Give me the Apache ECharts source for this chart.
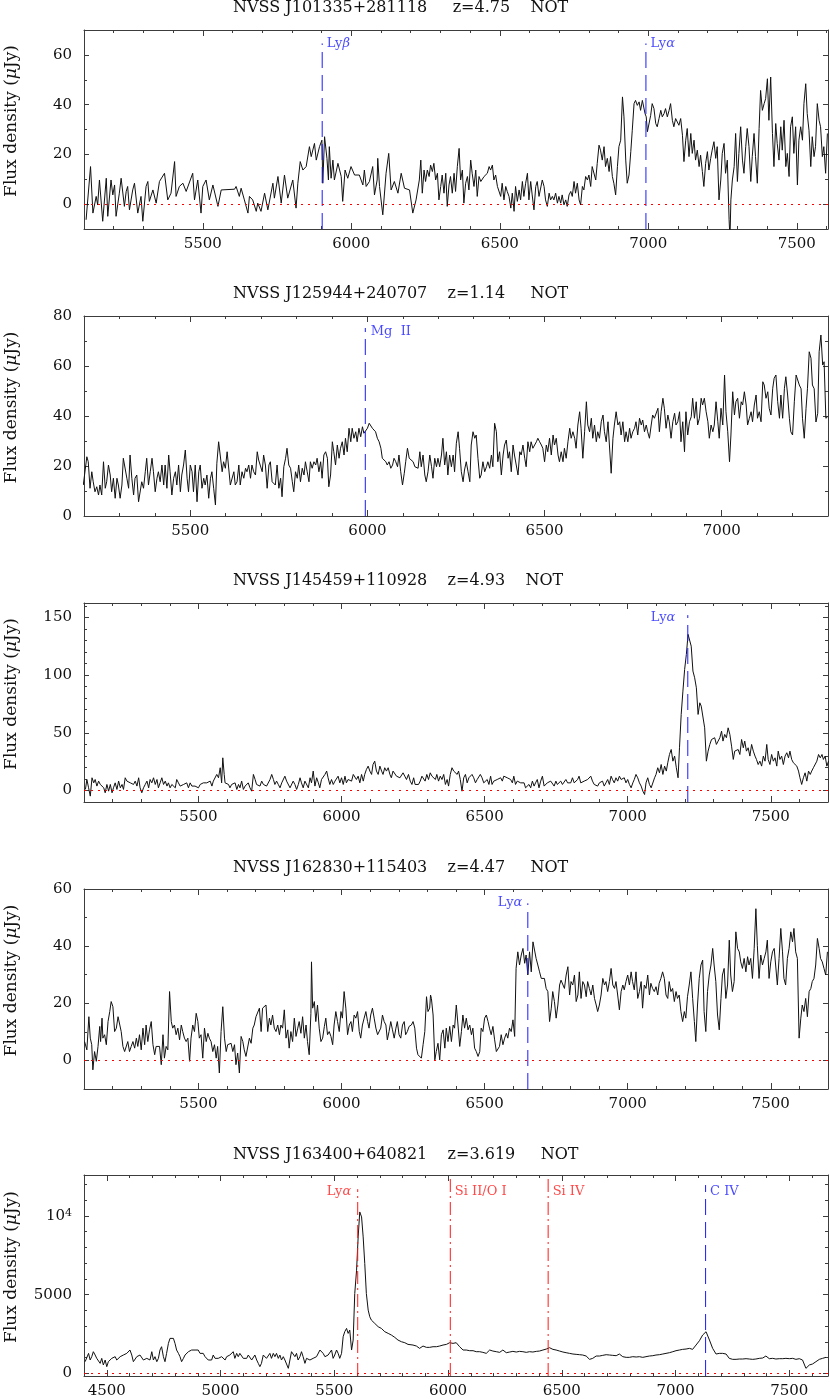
<!DOCTYPE html>
<html><head><meta charset="utf-8">
<script src="https://cdn.jsdelivr.net/npm/echarts@6/dist/echarts.min.js"></script>
<style>html,body{margin:0;padding:0;background:#fff}#c{width:830px;height:1399px}</style>
</head><body><div id="c"></div><script>
// ---------------- DATA ----------------
const titles = [
  'NVSS J101335+281118     z=4.75    NOT',
  'NVSS J125944+240707    z=1.14     NOT',
  'NVSS J145459+110928    z=4.93    NOT',
  'NVSS J162830+115403    z=4.47     NOT',
  'NVSS J163400+640821    z=3.619     NOT'
];
const xTicks1 = [5500,6000,6500,7000,7500];
const xTicks2 = [5500,6000,6500,7000];
const xTicks3 = [5500,6000,6500,7000,7500];
const xTicks4 = [5500,6000,6500,7000,7500];
const xTicks5 = [4500,5000,5500,6000,6500,7000,7500];
const yTicks1 = [0,20,40,60];
const yTicks2 = [0,20,40,60,80];
const yTicks3 = [0,50,100,150];
const yTicks4 = [0,20,40,60];
const yTicks5 = [0,5000,10000];

const lines1 = [{name:'Lyβ', wl:5902},{name:'Lyα', wl:6992}];
const lines2 = [{name:'Mg  II', wl:5994}];
const lines3 = [{name:'Lyα', wl:7210}];
const lines4 = [{name:'Lyα', wl:6651}];
const lines5 = [{name:'Lyα', wl:5603},{name:'Si II/O I', wl:6010},{name:'Si IV', wl:6440},{name:'C IV', wl:7132}];

const spec1 = [[5107,-6.3],[5122,15.1],[5130,-3.6],[5141,3.1],[5146,-0.3],[5152,9.7],[5158,9.7],[5163,-6.9],[5175,10.4],[5180,-4.9],[5191,9.7],[5197,3.7],[5203,7.7],[5208,-4.9],[5219,4.4],[5225,10.4],[5236,-0.9],[5242,5.1],[5247,7.1],[5253,-2.3],[5264,5.7],[5270,8.4],[5281,-3.6],[5292,3.1],[5298,-6.9],[5309,7.1],[5315,9.1],[5320,1.1],[5332,5.7],[5343,0.4],[5354,9.1],[5371,12.4],[5382,1.7],[5393,4.4],[5405,17.1],[5410,3.1],[5421,7.1],[5433,8.4],[5444,5.1],[5466,12.4],[5472,1.7],[5483,9.7],[5494,-3.6],[5500,7.1],[5511,9.7],[5522,1.7],[5534,7.7],[5551,-0.9],[5562,5.7],[5567,6],[5607,6],[5612,7.1],[5623,3.1],[5629,6.4],[5640,1.7],[5652,-3.6],[5657,3.1],[5668,1.7],[5680,-2.9],[5685,0.4],[5696,-2.9],[5708,4.4],[5719,-2.3],[5736,8.4],[5741,2.4],[5753,11.1],[5764,0.4],[5775,11.7],[5786,2.4],[5803,9.7],[5814,-1.6],[5820,8.4],[5828,17.1],[5837,13.7],[5848,15.1],[5859,23.1],[5865,19.1],[5876,24.4],[5882,17.7],[5893,23.1],[5901,25.7],[5904,8.4],[5910,27.1],[5918,18.4],[5923,9.7],[5926,23.1],[5932,10.4],[5938,17.7],[5943,9.7],[5955,16.4],[5966,11.1],[5971,1.1],[5979,13.7],[5988,10.4],[5999,15.1],[6011,11.7],[6027,11.7],[6039,7.7],[6044,13.7],[6050,7.1],[6061,9.1],[6072,15.1],[6078,3.7],[6087,9.7],[6089,18.4],[6095,7.1],[6106,-4.3],[6117,12.4],[6126,20.4],[6134,5.7],[6145,9.1],[6157,4.4],[6168,12.4],[6179,6.4],[6196,5.7],[6207,-3.6],[6218,1.7],[6229,9.7],
[6234,17.7],[6239,4.4],[6245,13.7],[6250,9.1],[6256,13.7],[6262,11.1],[6267,15.7],[6273,13.1],[6278,16.4],[6284,9.7],[6290,12.4],[6295,1.7],[6301,7.1],[6306,11.7],[6312,4.4],[6318,12.4],[6323,-0.9],[6329,7.7],[6334,11.1],[6340,4.4],[6346,12.4],[6351,5.1],[6357,15.1],[6363,22.4],[6368,9.7],[6374,13.7],[6379,0.4],[6385,8.4],[6391,11.1],[6396,5.7],[6402,17.7],[6407,12.4],[6413,7.1],[6419,13.7],[6424,3.1],[6430,11.1],[6436,9.1],[6447,11.1],[6458,12.4],[6464,15.1],[6469,13.7],[6475,15.7],[6480,9.7],[6486,11.7],[6492,7.1],[6497,7.7],[6503,3.1],[6508,8.4],[6514,1.7],[6520,7.1],[6525,5.1],[6531,3.1],[6537,-1.6],[6542,4.4],[6548,-2.9],[6553,7.1],[6559,1.1],[6565,5.7],[6570,1.7],[6576,9.1],[6581,3.1],[6587,8.4],[6593,12.4],[6598,1.7],[6604,9.1],[6609,3.7],[6615,-2.3],[6621,7.1],[6626,9.1],[6632,3.1],[6643,9.7],[6649,7.1],[6654,1.7],[6660,-0.9],[6666,4.4],[6671,1.7],[6677,3.1],[6682,1.7],[6688,4.4],[6694,0.4],[6699,3.1],[6705,0.4],[6710,3.7],[6716,-0.3],[6722,1.7],[6727,-0.9],[6733,3.7],[6739,5.1],[6744,3.1],[6750,9.1],[6755,4.4],[6761,8.4],[6767,1.7],[6772,-0.3],[6778,7.1],[6783,5.7],[6789,11.1],[6795,9.7],[6800,11.7],[6806,7.1],[6811,15.1],[6823,9.7],[6828,16.4],[6834,23.7],[6839,21.7],[6845,17.7],[6851,23.1],[6856,15.1],[6862,18.4],[6868,13.1],[6873,19.1],[6879,11.1],[6884,8.4],[6890,3.7],[6896,15.1],[6901,23.1],[6907,25.7],[6913,43.1],[6918,35.1],[6924,17.7],[6929,8.4],[6935,11.7],[6941,21.1],[6946,29.7],[6952,40.4],[6957,41.7],[6963,39.7],[6969,41.1],[6974,37.7],[6980,41.7],[6985,41.7],[6989,36.4],[6993,35.1],[6997,29.1],[7002,29.7],[7008,35.7],[7013,40.4],[7019,38.4],[7025,32.4],[7030,31.1],[7036,34.4],[7042,37.7],[7047,35.1],[7053,36.4],[7058,38.4],[7064,35.1],[7070,37.7],[7075,40.4],[7081,33.7],[7086,31.1],[7092,34.4],[7098,35.1],[7103,31.7],[7109,34.4],[7115,27.7],[7120,17.1],[7126,25.7],[7131,30.4],[7137,19.1],[7143,28.4],[7148,20.4],[7154,25.7],[7159,17.7],[7165,21.7],[7171,15.1],[7176,19.7],[7182,13.1],[7187,7.1],[7193,16.4],[7199,21.1],[7204,13.7],[7210,18.4],[7215,21.7],[7221,25.1],[7227,18.4],[7232,23.1],[7238,1.7],[7244,9.7],[7249,20.4],[7255,24.4],[7260,12.4],[7266,17.7],[7272,-6.3],[7275,-14],[7278,1.7],[7283,9.7],[7289,15.1],[7294,28.4],[7300,9.1],[7305,20.4],[7311,31.1],[7317,17.7],[7322,12.4],[7328,23.1],[7333,30.4],[7339,23.1],[7345,9.1],[7350,19.1],[7356,28.4],[7361,19.1],[7367,8.4],[7373,30.4],[7378,45.7],[7384,37.7],[7390,40.4],[7395,42.4],[7401,50.4],[7406,33.7],[7412,51.1],[7418,28.4],[7423,15.1],[7429,32.4],[7434,24.4],[7440,17.7],[7446,31.1],[7451,21.7],[7457,33.7],[7463,15.1],[7468,20.4],[7474,11.1],[7479,31.1],[7485,35.1],[7490,20.4],[7496,31.1],[7502,7.7],[7507,25.7],[7513,31.1],[7519,25.7],[7524,40.4],[7530,48.4],[7535,36.4],[7541,29.7],[7547,15.1],[7552,27.1],[7558,19.1],[7563,23.1],[7569,40.4],[7575,33.7],[7580,31.1],[7586,19.1],[7591,23.1],[7597,12.4],[7603,28.4]];

const spec2 = [[5198,12.4],[5208,23.7],[5212,21.7],[5217,11.1],[5222,17.7],[5226,13.7],[5231,9.7],[5236,11.7],[5241,8.4],[5245,12.4],[5250,8.4],[5255,21.7],[5260,11.1],[5264,13.7],[5269,20.4],[5274,16.4],[5278,9.7],[5283,15.1],[5288,7.1],[5293,15.1],[5297,12.4],[5302,7.1],[5307,12.4],[5311,23.1],[5316,22.4],[5321,15.1],[5326,11.1],[5330,24.4],[5335,15.1],[5340,8.4],[5344,15.1],[5349,16.4],[5354,5.7],[5359,5.7],[5363,13.7],[5368,11.1],[5373,17.7],[5377,23.1],[5382,12.4],[5387,17.7],[5392,23.1],[5396,17.7],[5401,9.7],[5406,15.1],[5410,17.7],[5415,13.7],[5420,20.4],[5425,12.4],[5429,20.4],[5434,11.1],[5439,24.4],[5443,17.7],[5448,8.4],[5453,15.1],[5458,17.7],[5462,12.4],[5467,20.4],[5472,9.7],[5476,16.4],[5481,20.4],[5486,26.4],[5491,15.1],[5495,9.7],[5500,20.4],[5505,17.7],[5509,9.7],[5514,20.4],[5519,5.7],[5524,17.7],[5528,20.4],[5533,11.1],[5538,15.1],[5542,12.4],[5547,16.4],[5552,7.1],[5557,15.1],[5561,17.7],[5566,11.1],[5571,4.4],[5575,21.1],[5580,29.7],[5585,29.7],[5590,17.7],[5594,21.7],[5599,19.1],[5604,25.7],[5608,25.7],[5613,12.4],[5618,12.4],[5623,17.7],[5627,12.4],[5632,13.7],[5637,20.4],[5641,12.4],[5646,17.7],[5651,15.1],[5656,19.1],[5660,17.7],[5665,20.4],[5670,15.1],[5674,20.4],[5679,17.7],[5684,16.4],[5689,25.7],[5693,22.4],[5698,23.1],[5703,17.7],[5707,24.4],[5712,20.4],[5717,11.1],[5722,20.4],[5726,21.7],[5731,13.7],[5736,13.7],[5740,12.4],[5745,20.4],[5750,11.1],[5755,15.1],[5759,7.7],[5764,19.7],[5769,23.1],[5773,27.1],[5778,20.4],[5783,19.1],[5788,13.7],[5792,9.7],[5797,17.7],[5802,15.1],[5806,20.4],[5811,13.7],[5816,19.1],[5821,16.4],[5825,21.7],[5830,17.7],[5835,13.7],[5839,21.7],[5844,19.1],[5849,21.7],[5854,20.4],[5858,23.1],[5863,17.7],[5868,21.7],[5872,15.1],[5877,24.4],[5882,25.7],[5887,23.1],[5891,11.7],[5896,16.4],[5901,29.7],[5905,25.7],[5910,20.4],[5915,28.4],[5920,23.1],[5924,27.1],[5929,29.7],[5934,24.4],[5938,31.1],[5943,25.7],[5948,35.1],[5953,29.7],[5957,35.1],[5962,31.1],[5967,33.7],[5971,29.7],[5976,35.1],[5981,31.7],[5986,35.7],[5990,33.1],[5995,33.7],[6000,35.1],[6005,37.1],[6009,36.4],[6014,35.1],[6019,35.7],[6023,33.7],[6028,31.1],[6033,29.7],[6038,27.1],[6042,23.1],[6047,22.4],[6052,21.7],[6056,20.4],[6061,21.7],[6066,19.1],[6071,20.4],[6075,23.1],[6080,21.7],[6085,19.7],[6089,24.4],[6094,17.7],[6099,12.4],[6104,17.1],[6108,21.7],[6113,27.1],[6118,23.1],
[6129,21.7],[6134,19.7],[6138,20.4],[6143,19.1],[6148,25.7],[6152,19.7],[6157,24.4],[6162,16.4],[6166,13.7],[6171,17.7],[6176,24.4],[6181,19.7],[6185,15.1],[6190,23.1],[6195,19.7],[6199,23.1],[6204,19.7],[6209,24.4],[6213,31.1],[6218,20.4],[6223,25.7],[6227,16.4],[6232,24.4],[6237,19.7],[6242,24.4],[6246,17.7],[6251,29.1],[6256,33.7],[6260,27.1],[6265,17.7],[6270,13.7],[6274,18.4],[6279,21.7],[6284,17.7],[6289,13.7],[6293,28.4],[6298,33.7],[6303,31.1],[6307,32.4],[6312,23.1],[6317,15.1],[6321,16.4],[6326,21.7],[6331,17.7],[6336,19.7],[6340,21.7],[6345,19.1],[6350,24.4],[6354,19.7],[6359,37.1],[6364,33.7],[6368,21.7],[6373,25.7],[6378,16.4],[6383,24.4],[6387,28.4],[6392,30.4],[6397,23.1],[6401,25.7],[6406,17.7],[6411,28.4],[6415,24.4],[6420,20.4],[6425,16.4],[6430,25.7],[6434,24.4],[6439,28.4],[6444,23.1],[6448,19.7],[6453,29.7],[6458,25.7],[6462,29.7],[6467,27.1],[6472,28.4],[6477,29.7],[6481,31.1],[6486,29.7],[6491,28.4],[6495,27.1],[6500,21.7],[6505,28.4],[6509,25.7],[6514,31.1],[6519,24.4],[6524,32.4],[6528,28.4],[6533,31.1],[6538,24.4],[6542,21.7],[6547,25.7],[6552,21.7],[6556,27.1],[6561,23.1],[6566,29.7],[6571,35.1],[6575,31.1],[6580,33.7],[6585,31.1],[6589,27.1],[6594,36.4],[6599,41.7],[6603,35.1],[6608,23.1],[6613,33.7],[6618,45.7],[6622,36.4],[6627,33.7],[6632,39.1],[6636,31.1],[6641,36.4],[6646,29.7],[6650,33.7],[6655,31.1],[6660,37.7],[6665,40.4],[6669,33.7],[6674,29.7],[6679,37.7],[6683,28.4],[6688,17.1],[6693,31.1],[6697,36.4],[6702,41.7],[6707,36.4],[6712,37.7],[6716,32.4],[6721,37.7],[6726,29.7],[6730,33.7],[6735,29.7],[6740,35.1],[6744,31.1],[6749,33.7],[6754,35.1],[6758,37.7],[6763,32.4],[6768,39.1],[6773,36.4],[6777,38.4],[6782,33.7],[6787,36.4],[6791,33.7],[6796,31.1],[6801,36.4],[6805,40.4],[6810,39.1],[6815,39.1],[6820,43.1],[6824,33.7],[6829,41.7],[6834,47.1],[6838,43.1],[6843,35.1],[6848,40.4],[6852,37.7],[6857,31.1],[6862,37.7],[6867,41.1],[6871,36.4],[6876,37.7],[6881,41.7],[6885,29.7],[6890,37.7],[6895,25.7],[6899,41.7],[6904,32.4],[6909,37.7],[6914,39.7],[6918,47.1],[6923,39.1],[6928,45.7],[6932,36.4],[6937,39.1],[6942,47.1],[6946,44.4],[6951,47.1],[6956,41.7],[6961,37.7],[6965,31.1],[6970,36.4],[6975,33.7],[6979,36.4],[6984,45.7],[6989,37.7],[6993,31.1],[6998,43.1],[7003,36.4],[7008,56.4],[7012,41.7],[7017,33.7],[7022,21.7],[7026,32.4],[7031,49.7],[7036,40.4],[7040,45.7],[7045,47.1],[7050,39.1],[7055,45.7],[7059,44.4],[7064,49.7],[7069,44.4],[7073,36.4],[7078,39.1],[7083,41.7],[7087,37.7],[7092,44.4],[7097,48.4],[7101,39.1],[7106,41.7],[7111,37.7],[7116,53.7],[7120,52.4],[7125,47.1],[7130,49.7],[7134,43.1],[7139,40.4],[7144,51.1],[7148,55.1],[7153,56.4],[7158,45.7],[7163,39.1],[7167,48.4],[7172,39.1],[7177,51.1],[7181,55.7],[7186,48.4],[7191,39.1],[7195,33.7],[7200,32.4],[7205,45.7],[7210,56.4],[7214,56.4],[7219,52.4],[7224,50.9],[7228,39.1],[7233,31.1],[7238,43.1],[7242,50.9],[7247,65.7],[7252,63.1],[7256,52.4],[7261,50.9],[7266,37.6],[7271,41.1],[7275,65.7],[7280,72.4],[7285,60.4],[7289,61.7],[7294,39.1],[7299,39.7]];

const spec3 = [[5105,0.9],[5110,9.5],[5116,2.3],[5122,-4.9],[5128,11.0],[5134,6.6],[5139,9.5],[5145,3.8],[5151,8.1],[5157,5.2],[5163,6.6],[5169,2.3],[5174,-2.0],[5180,5.2],[5186,-0.6],[5192,5.2],[5198,-2.0],[5203,2.3],[5209,6.6],[5215,0.9],[5221,8.1],[5227,2.3],[5233,5.2],[5238,0.9],[5244,11.0],[5250,8.1],[5256,9.5],[5262,6.6],[5267,8.1],[5273,5.2],[5279,8.1],[5285,3.8],[5291,11.0],[5296,2.3],[5302,-2.0],[5308,2.3],[5314,5.2],[5320,8.1],[5326,2.3],[5331,9.5],[5337,6.6],[5343,11.0],[5349,5.2],[5355,9.5],[5360,2.3],[5366,6.6],[5372,11.0],[5378,5.2],[5384,8.1],[5390,3.8],[5395,6.6],[5401,2.3],[5407,5.2],[5413,6.6],[5419,2.3],[5424,9.5],[5430,6.6],[5436,3.8],[5442,2.3],[5448,5.2],[5453,3.8],[5459,6.6],[5465,2.3],[5471,6.6],[5477,3.8],[5483,5.2],[5488,3.8],[5494,5.2],[5500,2.3],[5506,5.2],[5512,3.8],[5517,6.6],[5523,5.2],[5529,6.6],[5535,5.2],[5541,8.1],[5547,3.8],[5552,8.1],[5558,6.6],[5564,13.9],[5570,11.0],[5576,19.7],[5581,6.6],[5585,28.3],[5590,13.9],[5593,6.6],[5599,8.1],[5605,5.2],[5610,2.3],[5616,5.2],[5622,3.8],[5628,6.6],[5634,0.9],[5640,5.2],[5645,2.3],[5651,8.1],[5657,0.9],[5663,3.8],[5669,2.3],[5674,6.6],[5680,2.3],[5686,-0.6],[5692,13.9],[5698,9.5],[5703,5.2],[5709,6.6],[5715,3.8],[5721,8.1],[5727,5.2],[5733,6.6],[5738,3.8],[5744,5.2],[5750,9.5],[5756,13.9],[5762,9.5],[5767,5.2],[5773,8.1],[5779,5.2],[5785,2.3],[5791,6.6],[5797,5.2],[5802,12.4],[5808,8.1],[5814,6.6],[5820,2.3],[5826,3.8],[5831,8.1],[5837,5.2],[5843,0.9],[5849,5.2],[5855,11.0],[5860,6.6],[5866,2.3],[5872,8.1],[5878,6.6],[5884,2.3],[5890,11.0],[5895,6.6],[5901,16.8],[5907,3.8],[5913,11.0],[5919,6.6],[5924,2.3],[5930,9.5],[5936,8.1],[5942,13.9],[5948,16.8],[5953,11.0],[5959,5.2],[5965,9.5],[5971,5.2],[5977,8.1],[5983,6.6],[5988,12.4],[5994,6.6],[6000,11.0],[6006,5.2],[6012,12.4],[6017,6.6],[6023,9.5],[6029,11.0],[6035,8.1],[6041,13.9],[6047,12.4],[6052,9.5],[6058,12.4],[6064,6.6],[6070,13.9],[6076,8.1],[6081,13.9],[6087,18.2],[6093,21.1],[6099,16.8],[6105,13.9],[6110,22.5],[6116,25.4],[6122,16.8],[6128,13.9],[6134,21.1],[6140,16.8],[6145,13.9],[6151,19.7],[6157,16.8],[6163,19.7],[6169,13.9],[6174,11.0],[6180,16.8],[6186,15.3],[6192,12.4],[6198,13.9],[6204,11.0],[6209,12.4],[6215,15.3],[6221,12.4],[6227,9.5],
[6234,13.9],[6240,8.1],[6246,5.2],[6252,11.0],[6257,5.2],[6263,6.6],[6269,5.2],[6275,8.1],[6281,12.4],[6287,11.0],[6292,8.1],[6298,13.9],[6304,9.5],[6310,15.3],[6316,12.4],[6322,13.9],[6328,9.5],[6333,13.9],[6339,8.1],[6345,12.4],[6351,9.5],[6357,13.9],[6363,5.2],[6369,9.5],[6374,3.8],[6380,13.9],[6386,19.7],[6392,16.8],[6398,18.2],[6404,13.9],[6409,16.8],[6415,9.5],[6421,-0.6],[6427,11.0],[6433,13.9],[6439,6.6],[6445,11.0],[6450,12.4],[6456,13.9],[6462,11.0],[6468,6.6],[6474,9.5],[6480,8.1],[6485,13.9],[6491,11.0],[6497,6.6],[6503,5.2],[6509,9.5],[6515,5.2],[6521,12.4],[6526,5.2],[6532,8.1],[6538,6.6],[6544,9.5],[6550,8.1],[6556,11.0],[6562,8.1],[6567,12.4],[6573,13.9],[6579,11.0],[6585,12.4],[6591,9.5],[6597,6.6],[6602,12.4],[6608,5.2],[6614,8.1],[6620,9.5],[6626,6.6],[6632,5.2],[6638,6.6],[6643,2.3],[6649,0.9],[6655,5.2],[6661,2.3],[6667,8.1],[6673,3.8],[6678,6.6],[6684,9.5],[6690,2.3],[6696,8.1],[6702,12.4],[6708,3.8],[6714,2.3],[6719,6.6],[6725,5.2],[6731,8.1],[6737,6.6],[6743,3.8],[6749,8.1],[6754,5.2],[6760,6.6],[6766,8.1],[6772,5.2],[6778,6.6],[6784,9.5],[6790,6.6],[6795,8.1],[6801,6.6],[6807,11.0],[6813,6.6],[6819,5.2],[6825,9.5],[6830,12.4],[6836,6.6],[6842,5.2],[6848,8.1],[6854,6.6],[6860,9.5],[6866,8.1],[6871,12.4],[6877,8.1],[6883,5.2],[6889,6.6],[6895,3.8],[6901,6.6],[6907,5.2],[6912,8.1],[6918,3.8],[6924,6.6],[6930,9.5],[6936,5.2],[6942,12.4],[6947,9.5],[6953,6.6],[6959,11.0],[6965,8.1],[6971,12.4],[6977,9.5],[6983,8.1],[6988,11.0],[6994,6.6],[7000,9.5],[7006,5.2],[7012,2.3],[7018,6.6],[7023,9.5],[7029,13.9],[7035,11.0],[7041,6.6],[7047,3.8],[7053,-0.6],[7059,-3.5],[7064,6.6],[7070,11.0],[7076,5.2],[7082,2.3],[7088,2.3],[7094,11.0],[7099,13.9],[7105,19.7],[7111,15.3],[7117,22.5],[7123,13.9],[7129,21.1],[7135,16.8],[7140,24.0],[7146,31.2],[7152,35.5],[7158,25.4],[7164,29.8],[7170,19.7],[7176,11.0],[7181,37.0],[7187,65.9],[7193,86.1],[7199,104.9],[7205,117.9],[7211,135.3],[7216,133.8],[7222,125.1],[7228,103.5],[7234,97.7],[7240,89.0],[7246,65.9],[7252,76.0],[7257,73.1],[7263,71.7],[7269,54.3],[7275,25.4],[7281,34.1],[7287,39.9],[7293,44.2],[7298,42.8],[7304,45.7],[7310,39.9],[7316,42.8],[7322,45.7],[7328,51.4],[7333,42.8],[7339,48.6],[7345,45.7],[7351,54.3],[7357,48.6],[7363,38.4],[7369,26.9],[7374,34.1],[7380,32.7],[7386,35.5],[7392,31.2],[7398,44.2],[7404,37.0],[7409,42.8],[7415,34.1],[7421,37.0],[7427,29.8],[7433,39.9],[7439,34.1],[7445,29.8],[7450,26.9],[7456,22.5],[7462,25.4],[7468,21.1],[7474,29.8],[7480,25.4],[7486,39.9],[7491,26.9],[7497,22.5],[7503,31.2],[7509,25.4],[7515,28.3],[7521,21.1],[7526,34.1],[7532,26.9],[7538,29.8],[7544,22.5],[7550,29.8],[7556,32.7],[7562,28.3],[7567,34.1],[7573,26.9],[7579,24.0],[7585,22.5],[7591,21.1],[7597,16.8],[7602,11.0],[7608,5.2],[7614,11.0],[7620,15.3],[7626,8.1],[7632,16.8],[7638,13.9],[7643,16.8],[7649,19.7],[7655,21.1],[7661,25.4],[7667,31.2],[7673,28.3],[7679,31.2],[7684,26.9],[7690,29.8],[7696,21.1],[7702,25.4]];

const spec4 = [[5102,6.6],[5110,3.7],[5117,15.3],[5122,7.8],[5127,5.5],[5131,-3.3],[5137,3.1],[5143,-0.3],[5149,4.9],[5155,11.9],[5158,6.6],[5163,14.8],[5166,7.8],[5172,9.0],[5178,5.5],[5184,13.6],[5190,17.1],[5195,20.6],[5201,18.8],[5207,10.1],[5213,11.3],[5219,15.3],[5224,14.8],[5230,10.1],[5236,4.9],[5242,3.1],[5248,3.7],[5253,6.6],[5259,3.1],[5265,4.9],[5271,6.6],[5277,4.3],[5283,7.8],[5288,4.9],[5294,9.0],[5300,3.7],[5306,11.3],[5312,5.5],[5317,12.4],[5323,6.6],[5329,10.7],[5335,13.6],[5341,5.5],[5347,2.0],[5352,4.9],[5358,4.3],[5364,4.9],[5370,-1.5],[5376,9.0],[5381,0.8],[5387,4.9],[5393,3.7],[5399,24.1],[5405,13.6],[5410,11.3],[5416,12.4],[5422,9.0],[5428,11.3],[5434,7.2],[5440,12.4],[5445,10.1],[5451,7.8],[5457,6.6],[5463,7.8],[5469,-0.3],[5474,7.8],[5480,12.4],[5486,10.1],[5492,16.5],[5498,13.6],[5503,7.8],[5509,9.0],[5515,0.8],[5521,11.3],[5527,6.6],[5533,9.5],[5538,7.8],[5544,6.6],[5550,3.1],[5556,5.5],[5562,0.8],[5567,4.9],[5573,-4.4],[5579,10.1],[5585,18.8],[5591,7.8],[5597,3.1],[5602,5.5],[5608,4.9],[5614,6.0],[5620,3.1],[5626,5.5],[5631,-1.5],[5637,2.6],[5643,-4.4],[5649,8.4],[5655,6.6],[5660,3.7],[5666,1.4],[5672,2.0],[5678,7.8],[5684,6.0],[5690,11.3],[5695,12.4],[5701,15.3],[5707,14.8],[5713,18.3],[5719,10.1],[5724,18.3],[5730,17.7],[5736,19.4],[5742,10.1],[5748,14.8],[5753,12.4],[5759,15.9],[5765,11.3],[5771,10.1],[5777,12.4],[5783,9.0],[5788,12.4],[5794,11.3],[5800,17.7],[5806,7.8],[5812,10.7],[5817,4.3],[5823,10.1],[5829,6.6],[5835,14.8],[5841,8.4],[5847,11.3],[5852,13.6],[5858,9.5],[5864,15.3],[5870,7.8],[5876,12.4],[5881,6.6],[5887,2.0],[5893,16.5],[5895,34.5],[5899,18.3],[5905,20.6],[5910,13.6],[5916,19.4],[5922,11.3],[5928,6.6],[5934,7.8],[5940,11.9],[5945,14.8],[5951,9.0],[5957,10.1],[5963,8.4],[5969,5.5],[5974,12.4],[5980,17.1],[5986,13.6],[5992,10.1],[5998,17.1],[6003,14.8],[6009,24.1],[6015,18.3],[6021,9.0],[6027,12.4],[6033,13.6],[6038,10.1],[6044,15.9],[6050,14.8],[6056,17.1],[6062,10.1],[6067,7.8],[6073,12.4],[6079,14.8],[6085,17.1],[6091,13.6],[6096,11.3],[6102,15.9],[6108,18.3],[6114,14.8],[6120,11.3],[6126,9.0],[6131,8.4],[6137,11.3],[6143,15.9],[6149,13.6],[6155,12.4],[6160,7.2],[6166,10.1],[6172,13.6],[6178,10.7],[6184,7.8],[6190,11.3],[6195,13.6],[6201,9.0],[6207,7.8],[6213,12.4],[6219,13.6],[6224,9.0],[6230,10.1],[6236,11.9],
[6244,12.4],[6250,13.6],[6256,11.3],[6262,4.3],[6267,2.0],[6273,1.4],[6279,0.8],[6285,5.5],[6291,10.1],[6297,22.3],[6302,17.1],[6308,18.3],[6311,22.9],[6314,21.7],[6320,15.9],[6326,0.2],[6331,3.1],[6337,6.0],[6343,0.2],[6349,9.0],[6355,10.7],[6361,4.3],[6366,11.3],[6372,6.6],[6378,11.9],[6384,6.6],[6390,12.4],[6395,11.3],[6401,19.4],[6407,12.4],[6413,4.9],[6419,10.1],[6424,15.9],[6430,11.3],[6436,14.8],[6442,10.7],[6448,12.4],[6454,9.0],[6459,11.3],[6465,4.3],[6471,3.1],[6477,1.4],[6483,3.1],[6488,11.3],[6494,10.1],[6500,14.8],[6506,15.9],[6512,13.6],[6517,11.3],[6523,9.0],[6529,11.9],[6535,7.2],[6541,3.1],[6547,2.6],[6552,4.9],[6558,9.0],[6564,5.5],[6570,7.8],[6576,9.5],[6581,7.8],[6587,11.3],[6593,10.1],[6599,14.2],[6605,8.4],[6610,32.2],[6616,38.0],[6622,33.4],[6628,36.9],[6634,39.2],[6640,34.0],[6645,36.9],[6651,29.9],[6657,38.0],[6663,31.0],[6669,41.5],[6674,42.1],[6680,35.7],[6686,33.4],[6692,31.0],[6698,28.7],[6703,28.1],[6709,28.7],[6715,25.2],[6721,24.1],[6727,13.6],[6733,18.3],[6738,24.1],[6744,20.6],[6750,14.8],[6756,19.4],[6762,26.4],[6767,28.1],[6773,28.7],[6779,25.2],[6785,29.9],[6791,32.8],[6797,22.9],[6802,27.6],[6808,26.4],[6814,29.9],[6820,20.6],[6826,22.9],[6831,31.0],[6837,21.7],[6843,27.6],[6849,26.4],[6855,22.3],[6860,27.6],[6866,25.2],[6872,22.9],[6878,26.4],[6884,21.7],[6890,19.4],[6895,17.1],[6901,19.4],[6907,22.9],[6913,28.7],[6919,26.4],[6924,27.6],[6930,24.1],[6936,27.6],[6942,32.2],[6948,26.4],[6954,25.2],[6959,27.6],[6965,22.9],[6971,17.7],[6977,24.1],[6983,26.4],[6988,24.7],[6994,27.6],[7000,29.9],[7006,26.4],[7012,31.0],[7017,27.6],[7023,24.7],[7029,31.0],[7035,21.7],[7041,24.1],[7047,27.6],[7052,18.3],[7058,26.4],[7064,25.2],[7070,29.9],[7076,22.9],[7081,27.0],[7087,25.2],[7093,24.1],[7099,25.8],[7105,22.9],[7110,27.0],[7116,28.7],[7122,31.0],[7128,28.7],[7134,22.9],[7140,21.7],[7145,27.6],[7151,24.1],[7157,25.2],[7163,20.6],[7169,24.1],[7174,21.7],[7180,22.9],[7186,17.1],[7192,13.6],[7198,17.1],[7203,14.8],[7209,22.3],[7215,26.4],[7221,31.0],[7227,21.7],[7233,13.6],[7238,6.6],[7244,19.4],[7250,28.7],[7256,33.4],[7262,35.1],[7267,17.1],[7273,10.1],[7279,24.1],[7285,29.9],[7291,33.4],[7297,39.2],[7302,33.4],[7308,27.6],[7314,15.9],[7320,10.7],[7326,21.7],[7331,29.9],[7337,32.2],[7343,21.7],[7349,26.4],[7355,42.1],[7360,29.9],[7366,24.1],[7372,27.6],[7378,45.0],[7384,39.2],[7390,38.0],[7395,34.5],[7401,32.2],[7407,35.7],[7413,31.0],[7419,36.3],[7424,33.4],[7430,35.7],[7436,28.7],[7442,39.2],[7448,53.1],[7453,40.3],[7459,28.7],[7465,36.9],[7471,33.4],[7477,35.7],[7483,38.0],[7488,42.1],[7494,28.7],[7500,34.5],[7506,38.0],[7512,39.2],[7517,33.4],[7523,26.4],[7529,35.7],[7535,46.2],[7541,38.0],[7546,28.7],[7552,26.4],[7558,35.7],[7564,39.2],[7570,45.0],[7576,41.5],[7581,46.2],[7587,38.0],[7593,35.7],[7599,7.8],[7605,14.8],[7610,19.4],[7616,17.1],[7622,21.7],[7628,15.3],[7634,24.1],[7640,25.2],[7645,27.6],[7651,28.7],[7657,33.4],[7663,42.7],[7669,39.2],[7674,35.7],[7680,34.5],[7686,32.2],[7692,29.9],[7698,38.0]];

const spec5 = [[4405,740],[4412,634],[4420,1268],[4427,846],[4434,1057],[4441,1374],[4449,1163],[4456,951],[4463,1057],[4471,634],[4478,951],[4485,529],[4493,846],[4500,423],[4507,740],[4515,846],[4522,951],[4529,846],[4537,1057],[4544,846],[4551,951],[4559,1057],[4566,951],[4573,1163],[4580,1057],[4588,1268],[4595,1163],[4602,1480],[4610,1163],[4617,740],[4624,846],[4632,1057],[4639,951],[4646,1163],[4654,1268],[4661,846],[4668,740],[4676,951],[4683,1057],[4690,846],[4698,1374],[4705,846],[4712,1057],[4720,740],[4727,951],[4734,1480],[4741,1691],[4749,1057],[4756,740],[4763,1268],[4771,1903],[4778,2220],[4785,2325],[4793,2220],[4800,1903],[4807,1480],[4815,1268],[4822,1057],[4829,740],[4837,951],[4844,1163],[4851,1057],[4859,1374],[4866,1268],[4873,1480],[4880,1374],[4888,1480],[4895,1374],[4902,1480],[4910,1268],[4917,1163],[4924,1268],[4932,1057],[4939,1163],[4946,846],[4954,951],[4961,846],[4968,1163],[4976,951],[4983,846],[4990,951],[4998,846],[5005,1057],[5012,951],[5020,846],[5027,1057],[5034,951],[5041,1163],[5049,1057],[5056,1374],[5063,951],[5071,1268],[5078,1057],[5085,1268],[5093,1163],[5100,951],[5107,1057],[5115,951],[5122,1163],[5129,1057],[5137,846],[5144,951],[5151,1163],[5159,846],[5166,634],[5173,423],[5180,634],[5188,1163],[5195,1268],[5202,951],[5210,1057],[5217,1268],[5224,951],[5232,1268],[5239,1057],[5246,1268],[5254,951],[5261,1163],[5268,846],[5276,1057],[5283,846],[5290,740],[5298,317],[5305,846],[5312,1374],[5320,1480],[5327,1057],[5334,1268],[5341,846],[5349,1057],[5356,1374],[5363,1057],[5371,634],[5378,951],[5385,1057],[5393,846],[5400,740],[5407,951],[5415,846],[5422,1057],[5429,951],[5437,1480],[5444,1586],[5451,1268],[5459,1057],[5466,951],[5473,1163],[5480,1268],[5488,1480],[5495,951],[5502,1163],[5510,1480],[5517,1268],[5524,951],[5532,1268],[5539,2325],[5546,2643],[5554,2854],[5561,2537],[5568,2748],[5576,1480],[5583,2114],[5590,5074],[5598,6553],[5605,8667],[5612,10253],[5620,9936],[5627,8667],[5634,6976],[5641,5074],[5649,4017],[5656,3594],[5663,3382],[5671,3277],[5678,3171],[5685,3065],[5693,2960],[5700,3002],[5707,2854],[5715,2748],[5722,2643],[5729,2579],[5737,2537],[5744,2473],[5751,2431],[5759,2325],[5766,2283],[5773,2220],[5780,2114],[5788,2072],[5795,2008],[5802,2008],[5810,1945],[5817,1903],[5824,1839],
[5832,1797],[5846,1797],[5861,1733],[5875,1586],[5890,1733],[5905,1649],[5919,1649],[5934,1691],[5949,1691],[5963,1733],[5978,1797],[5993,1839],[6007,1945],[6022,1903],[6036,1945],[6051,1691],[6066,1480],[6080,1480],[6095,1438],[6110,1438],[6124,1374],[6139,1374],[6153,1332],[6168,1268],[6183,1480],[6197,1416],[6212,1374],[6227,1332],[6241,1480],[6256,1311],[6271,1353],[6285,1395],[6300,1353],[6314,1395],[6329,1374],[6344,1332],[6358,1374],[6373,1353],[6388,1395],[6402,1416],[6417,1480],[6432,1543],[6446,1628],[6461,1522],[6475,1480],[6490,1416],[6505,1353],[6519,1311],[6534,1268],[6549,1226],[6563,1205],[6578,1184],[6592,1163],[6607,1099],[6622,888],[6636,951],[6651,1099],[6666,1099],[6680,1142],[6695,1184],[6710,1163],[6724,1142],[6739,1120],[6753,1226],[6768,1057],[6783,1015],[6797,1015],[6812,1057],[6827,1036],[6841,1057],[6856,1015],[6870,1057],[6885,1099],[6900,1120],[6914,1163],[6929,1184],[6944,1226],[6958,1268],[6973,1311],[6988,1374],[7002,1438],[7017,1480],[7031,1522],[7046,1543],[7061,1586],[7075,1522],[7090,1797],[7105,2072],[7119,2431],[7134,2643],[7149,2114],[7163,1586],[7178,1226],[7192,1268],[7207,1268],[7222,1226],[7236,951],[7251,888],[7266,888],[7280,909],[7295,909],[7310,930],[7324,909],[7339,888],[7353,909],[7368,951],[7383,973],[7397,1099],[7412,930],[7427,951],[7441,909],[7456,930],[7471,930],[7485,951],[7500,930],[7515,951],[7529,888],[7544,930],[7558,846],[7573,317],[7588,529],[7602,592],[7617,740],[7632,888],[7646,951],[7661,1015]];

// ---------------- LAYOUT / STYLE ----------------
const FONT = 'DejaVu Serif';
const AX = '#3c3c3c';
const BLUE = '#1a1aff', RED = '#ff1a1a';
const panels = [
  {title:titles[0], spec:spec1, xr:[5100,7605], xt:xTicks1, xm:100, yr:[-10,70], yt:yTicks1, ym:10, lines:lines1, zero:true,
   top:30, height:199, titleTop:0,
   ls:[{c:BLUE,t:'dash',side:'right',d:4,top:64.6,ly:64.5},{c:BLUE,t:'dash',side:'right',d:4,top:64.6,ly:64.5}]},
  {title:titles[1], spec:spec2, xr:[5200,7300], xt:xTicks2, xm:100, yr:[0,80], yt:yTicks2, ym:10, lines:lines2, zero:false,
   top:316, height:200, titleTop:286,
   ls:[{c:BLUE,t:'dash',side:'right',d:5,top:75.2,ly:73.7}]},
  {title:titles[2], spec:spec3, xr:[5100,7700], xt:xTicks3, xm:100, yr:[-10,162.5], yt:yTicks3, ym:10, lines:lines3, zero:true,
   top:603, height:199, titleTop:573,
   ls:[{c:BLUE,t:'dash',side:'left',d:12,top:152,ly:150}]},
  {title:titles[3], spec:spec4, xr:[5100,7700], xt:xTicks4, xm:100, yr:[-10,60], yt:yTicks4, ym:10, lines:lines4, zero:true,
   top:889, height:200, titleTop:860,
   ls:[{c:BLUE,t:'dash',side:'left',d:5,top:55,ly:55.3}]},
  {title:titles[4], spec:spec5, xr:[4400,7670], xt:xTicks5, xm:100, yr:[-170,12600], yt:yTicks5, ym:1000, lines:lines5, zero:true,
   top:1175, height:201, titleTop:1147,
   ls:[{c:RED,t:'dashdot',side:'left',d:6,top:11700,ly:11520},{c:RED,t:'dashdot',side:'right',d:4,top:12600,ly:11520},
       {c:RED,t:'dashdot',side:'right',d:4,top:12600,ly:11520},{c:BLUE,t:'dash',side:'right',d:4,top:11960,ly:11520}]}
];

function steps(min, max, step){ const o=[]; for(let v=Math.ceil(min/step)*step; v<=max+1e-9; v+=step) o.push(v); return o; }
function richName(n){ return '{n|' + n.replace(/([αβ])/g, '}{g|$1}{n|') + '}'; }

const option = {animation:false, backgroundColor:'#fff', textStyle:{fontFamily:FONT},
  title:[], grid:[], xAxis:[], yAxis:[], series:[]};

panels.forEach((p, i) => {
  option.grid.push({left:84, width:744, top:p.top, height:p.height, containLabel:false, outerBoundsMode:'none'});
  option.title.push({text:p.title, left:233, top:p.titleTop, padding:0,
    textStyle:{fontFamily:FONT, fontSize:16, fontWeight:'normal', color:'#111'}});
  const xMinor = steps(p.xr[0], p.xr[1], p.xm);
  const yMinor = steps(p.yr[0], p.yr[1], p.ym);
  const xb = option.xAxis.length, yb = option.yAxis.length;
  const mkX = (pos, ticks, len, lab, line) => ({type:'value', gridIndex:i, position:pos, min:p.xr[0], max:p.xr[1],
    axisLine:{show:line, onZero:false, lineStyle:{color:AX, width:1}},
    axisTick:{show:true, inside:true, length:len, customValues:ticks, lineStyle:{color:AX, width:1}},
    axisLabel:{show:lab, customValues:p.xt, margin:8, fontFamily:FONT, fontSize:15, color:'#111', formatter:v => String(v)},
    splitLine:{show:false}});
  option.xAxis.push(mkX('bottom', p.xt, 6, true, true), mkX('bottom', xMinor, 3, false, false),
                    mkX('top', p.xt, 6, false, true), mkX('top', xMinor, 3, false, false));
  const isBig = i === 4;
  const mkY = (pos, ticks, len, lab, line, withName) => {
    const a = {type:'value', gridIndex:i, position:pos, min:p.yr[0], max:p.yr[1],
      axisLine:{show:line, onZero:false, lineStyle:{color:AX, width:1}},
      axisTick:{show:true, inside:true, length:len, customValues:ticks, lineStyle:{color:AX, width:1}},
      axisLabel:{show:lab, customValues:p.yt, margin:12, fontFamily:FONT, fontSize:15, color:'#111',
        formatter: isBig ? (v => v === 10000 ? '{a|10}{s|4}' : '{a|' + v + '}') : (v => String(v)),
        rich: isBig ? {a:{fontFamily:FONT, fontSize:15, color:'#111'}, s:{fontFamily:FONT, fontSize:11, color:'#111', verticalAlign:'top', padding:[0,0,5,0]}} : undefined},
      splitLine:{show:false}};
    if (withName) {
      a.name = '{a|Flux density (}{b|μ}{a|Jy)}';
      a.nameLocation = 'middle'; a.nameRotate = 90; a.nameGap = 64;
      a.nameTextStyle = {padding:[0,0,0,17], rich:{a:{fontFamily:FONT, fontSize:17, color:'#111'}, b:{fontFamily:FONT, fontSize:17, fontStyle:'italic', color:'#111'}}};
    }
    return a;
  };
  option.yAxis.push(mkY('left', p.yt, 5, true, true, true), mkY('left', yMinor, 3, false, false, false),
                    mkY('right', p.yt, 5, false, true, false), mkY('right', yMinor, 3, false, false, false));

  const specSeries = {type:'line', xAxisIndex:xb, yAxisIndex:yb, data:p.spec, symbol:'none', showSymbol:false,
    clip:true, silent:true, lineStyle:{color:'#111', width:1}};
  if (p.zero) specSeries.markLine = {silent:true, symbol:['none','none'], label:{show:false}, animation:false,
      lineStyle:{color:'#ff0000', type:[2,5], width:1}, data:[{yAxis:0}]};
  option.series.push(specSeries);

  p.lines.forEach((ln, k) => {
    const st = p.ls[k];
    option.series.push({type:'line', xAxisIndex:xb, yAxisIndex:yb, symbol:'none', silent:true, clip:true, z:3,
      data:[[ln.wl, p.yr[0]], [ln.wl, st.top]],
      lineStyle:{color:st.c, width:1, type: st.t === 'dash' ? [16,7] : [13,4,2,4]}});
    option.series.push({type:'scatter', xAxisIndex:xb, yAxisIndex:yb, symbolSize:1, silent:true, z:4,
      itemStyle:{color:'rgba(0,0,0,0)'},
      data:[{value:[ln.wl, st.ly], label:{show:true, position:st.side, distance:st.d, formatter:richName(ln.name),
        rich:{n:{fontFamily:FONT, fontSize:13, color:st.c}, g:{fontFamily:FONT, fontSize:13, fontStyle:'italic', color:st.c}}}}]});
  });
});

const chart = echarts.init(document.getElementById('c'), null, {renderer:'canvas'});
chart.setOption(option);
</script></body></html>
